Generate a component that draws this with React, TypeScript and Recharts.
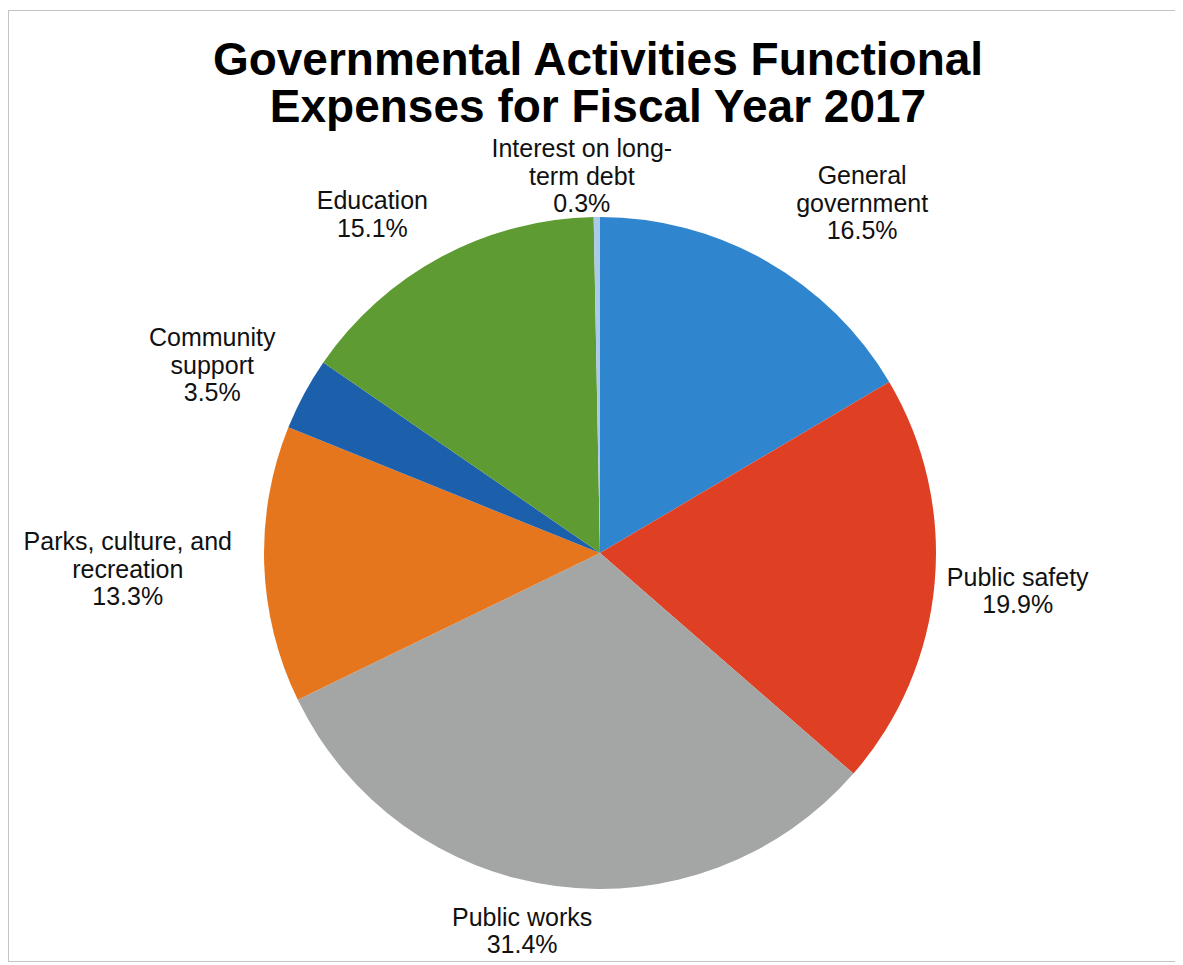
import { PieChart, Pie, Cell } from "recharts";

const categories = [
  "General government",
  "Public safety",
  "Public works",
  "Parks, culture, and recreation",
  "Community support",
  "Education",
  "Interest on long-term debt",
];
const shares = [16.5, 19.9, 31.4, 13.3, 3.5, 15.1, 0.3];
// label text as it wraps in the original
const labelLines = [
  ["General", "government"],
  ["Public safety"],
  ["Public works"],
  ["Parks, culture, and", "recreation"],
  ["Community", "support"],
  ["Education"],
  ["Interest on long-", "term debt"],
];
const colors = ["#2f86cf", "#df3f22", "#a4a6a5", "#e6761d", "#1c5fab", "#5e9b32", "#a9cbe9"];

const data = categories.map((name, i) => ({ name, value: shares[i] }));

// hand tweaks so labels land where the original put them
const LABEL_NUDGE = [
  [61, -10],
  [-3, 3],
  [-23, 3],
  [-17, 2],
  [-35, -3],
  [-38, -6],
  [-14, 14],
];

const FONT = "'Liberation Sans', Arial, sans-serif";
const LINE_H = 27.5;
const RAD = Math.PI / 180;

function renderLabel(props: any) {
  const { cx, cy, midAngle, outerRadius, index } = props;
  const lines = [...labelLines[index], `${shares[index].toFixed(1)}%`];
  const ux = Math.cos(-midAngle * RAD);
  const uy = Math.sin(-midAngle * RAD);
  const w = Math.max(...lines.map((l) => l.length)) * 11;
  const h = lines.length * 27;
  const r = outerRadius + 15;
  const x = cx + r * ux + (ux * w) / 2 + LABEL_NUDGE[index][0];
  const y = cy + r * uy + (uy * h) / 2 + LABEL_NUDGE[index][1];
  return (
    <g key={`lbl-${index}`}>
      {lines.map((line, j) => (
        <text
          key={j}
          x={x}
          y={y + (j - (lines.length - 1) / 2) * LINE_H}
          textAnchor="middle"
          dominantBaseline="central"
          fontFamily={FONT}
          fontSize={25}
          fill="#111"
        >
          {line}
        </text>
      ))}
    </g>
  );
}

export default function App() {
  return (
    <div
      style={{
        marginTop: 2,
        width: 1169,
        height: 952,
        boxSizing: "border-box",
        border: "1px solid #c4c4c4",
        background: "#fff",
        position: "relative",
      }}
    >
      <svg
        width={1167}
        height={120}
        style={{ position: "absolute", left: 0, top: 0 }}
      >
        <text x={589} y={48} textAnchor="middle" dominantBaseline="central" fontFamily={FONT} fontWeight="bold" fontSize={46} fill="#000">
          Governmental Activities Functional
        </text>
        <text x={589} y={95} textAnchor="middle" dominantBaseline="central" fontFamily={FONT} fontWeight="bold" fontSize={46} fill="#000">
          Expenses for Fiscal Year 2017
        </text>
      </svg>
      <PieChart
        width={1167}
        height={950}
        margin={{ top: 0, right: 0, bottom: 0, left: 0 }}
        style={{ position: "absolute", left: 0, top: 0 }}
      >
        <Pie
          data={data}
          dataKey="value"
          nameKey="name"
          cx={591}
          cy={542}
          outerRadius={336}
          startAngle={90}
          endAngle={-270}
          stroke="none"
          label={renderLabel}
          labelLine={false}
          isAnimationActive={false}
        >
          {data.map((d, i) => (
            <Cell key={d.name} fill={colors[i]} />
          ))}
        </Pie>
      </PieChart>
    </div>
  );
}
